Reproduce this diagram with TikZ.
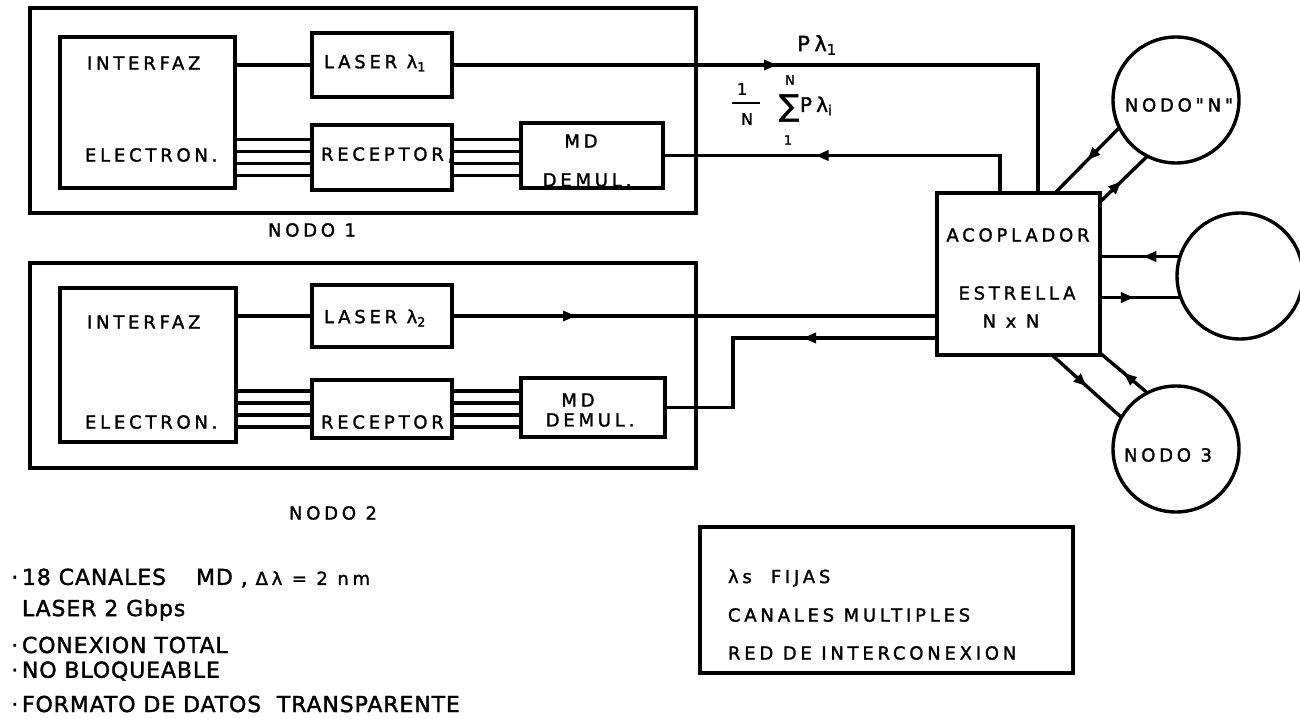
\documentclass[tikz,border=0pt]{standalone}
\usepackage{fontspec}
\usetikzlibrary{arrows.meta,decorations.markings,calc}
\newfontfamily\lblfont{DejaVu Sans}[LetterSpace=21,FakeBold=1.6]
\newfontfamily\notefont{DejaVu Sans}[LetterSpace=4,FakeBold=1.6]
\newcommand\lbl{\lblfont\fontsize{18}{20}\selectfont}
\newcommand\notetxt{\notefont\fontsize{22}{26}\selectfont}
\begin{document}
\begin{tikzpicture}[x=1pt,y=-1pt,
  every node/.style={inner sep=0pt,outer sep=0pt},
  box/.style={draw,line width=3.2pt},
  ln/.style={line width=3.4pt},
  lab/.style={font=\lbl},
  note/.style={font=\notetxt,anchor=west},
  nodecirc/.style={draw,circle,line width=3.4pt,minimum size=126pt},
  midarr/.style={postaction={decorate},decoration={markings,
     mark=at position #1 with {\arrow{Triangle[length=13pt,width=10pt]}}}}]
\useasboundingbox (0,0) rectangle (1300,719);

% ---------- NODO 1 ----------
\node[box,minimum width=666pt,minimum height=205pt] (n1) at (363,110.5) {};
\node[box,minimum width=175pt,minimum height=151pt] (if1) at (147.5,112.5) {};
\node[box,minimum width=140pt,minimum height=64pt] (las1) at (382,65) {};
\node[box,minimum width=140pt,minimum height=65pt] (rc1) at (382,157.5) {};
\node[box,minimum width=142pt,minimum height=65pt] (md1) at (592,155.5) {};
\node[lab,anchor=west] (if1a) at (87,63) {INTERFAZ};
\node[lab,anchor=west] (if1b) at (85,155) {ELECTRON.};
\node[lab,anchor=west] (las1t) at (324,63) {LASER λ\textsubscript{1}};
\node[lab,anchor=west] (rc1t) at (321,155) {RECEPTOR,};
\node[lab] (md1a) at (581,141) {MD};
\node[lab] (md1b) at (587,180) {DEMUL.};
\node[lab] (n1t) at (312,230) {NODO 1};

\draw[ln] (las1.west) -- (las1.west -| if1.east);
\foreach \d [count=\i] in {-18,-6,6,18}{
  \coordinate (a\i) at ($(rc1.west)+(0,\d)$);
  \coordinate (b\i) at ($(rc1.east)+(0,\d)$);
  \draw[ln] (a\i) -- (a\i -| if1.east);
  \draw[ln] (b\i) -- (b\i -| md1.west);
}

% ---------- NODO 2 ----------
\node[box,minimum width=666pt,minimum height=205pt] (n2) at (363,365.5) {};
\node[box,minimum width=176pt,minimum height=154pt] (if2) at (148,365) {};
\node[box,minimum width=140pt,minimum height=62pt] (las2) at (382,316) {};
\node[box,minimum width=140pt,minimum height=58pt] (rc2) at (382,409) {};
\node[box,minimum width=144pt,minimum height=59pt] (md2) at (593,407.5) {};
\node[lab,anchor=west] (if2a) at (87,322) {INTERFAZ};
\node[lab,anchor=west] (if2b) at (85,422) {ELECTRON.};
\node[lab,anchor=west] (las2t) at (324,318) {LASER λ\textsubscript{2}};
\node[lab,anchor=west] (rc2t) at (321,422) {RECEPTOR};
\node[lab] (md2a) at (578,400) {MD};
\node[lab] (md2b) at (590,420) {DEMUL.};
\node[lab] (n2t) at (333,513) {NODO 2};

\draw[ln] (las2.west) -- (las2.west -| if2.east);
\foreach \d [count=\i] in {-18,-6,6,18}{
  \coordinate (c\i) at ($(rc2.west)+(0,\d)$);
  \coordinate (d\i) at ($(rc2.east)+(0,\d)$);
  \draw[ln] (c\i) -- (c\i -| if2.east);
  \draw[ln] (d\i) -- (d\i -| md2.west);
}

% ---------- ACOPLADOR ----------
\node[box,minimum width=163pt,minimum height=162pt] (cpl) at (1018.5,274) {};
\node[lab] (cpla) at (1018,235) {ACOPLADOR};
\node[lab] (cplb) at (1017,293) {ESTRELLA};
\node[lab] (cplc) at (1011,321) {N x N};

% circles
\node[nodecirc] (nN) at (1176,100) {};
\node[nodecirc] (mid) at (1240,276) {};
\node[nodecirc] (n3) at (1176,449) {};
\node[lab] (nNt) at (1179,105) {NODO"N"};
\node[lab] (n3t) at (1168,455) {NODO 3};

% ---------- connectors ----------
\draw[ln,midarr=325pt] (las1.east) -| ($(cpl.north west)+(101,0)$);
\draw[ln,midarr=222pt] ($(cpl.north west)+(63,0)$) |- (md1.east);
\draw[ln,midarr=124pt] (las2.east) -- (las2.east -| cpl.west);
\draw[ln,midarr=134pt] ($(cpl.south west)+(0,-17)$) -- ++(-204,0) |- (md2.east);

% labels on the lines
\node[font=\lblfont\fontsize{21}{22}\selectfont] (pl1) at (817,45) {Pλ\textsubscript{1}};
\node[font=\lblfont\fontsize{16}{18}\selectfont] (fn) at (742,89) {1};
\node[fill=black,minimum width=28pt,minimum height=2.4pt] (fbar) at (746,103) {};
\node[font=\lblfont\fontsize{16}{18}\selectfont] (fd) at (747,119) {N};
\node[font=\lblfont\fontsize{30}{32}\selectfont] (sg) at (789,108) {∑};
\node[font=\lblfont\fontsize{13}{14}\selectfont] (sgN) at (790,80) {N};
\node[font=\lblfont\fontsize{13}{14}\selectfont] (sg1) at (788,140) {1};
\node[font=\lblfont\fontsize{20}{22}\selectfont,anchor=west] (plt) at (800,106) {Pλ\textsubscript{i}};

\draw[ln,midarr=0.46] (mid.162) -- (mid.162 -| cpl.east);
\draw[ln,midarr=0.42] (cpl.east |- mid.200) -- (mid.200);
\draw[ln,midarr=0.5] (nN.206.6) -- ($(cpl.north west)+(118,0)$);
\draw[ln,midarr=0.45] ($(cpl.north east)+(0,9)$) -- (nN.243);
\draw[ln,midarr=0.5] ($(cpl.south west)+(115,0)$) -- (n3.150);
\draw[ln,midarr=0.5] (n3.117) -- ($(cpl.south east)+(0,-2)$);

% ---------- legend ----------
\node[box,minimum width=373pt,minimum height=146pt] (lg) at (886.5,600) {};
\node[lab,anchor=west] (lg1) at (728,578) {λs\ \ FIJAS};
\node[lab,anchor=west] (lg2) at (728,615) {CANALES MULTIPLES};
\node[lab,anchor=west] (lg3) at (728,653) {RED DE INTERCONEXION};

% ---------- notes ----------
\node[note] (nt1) at (22,578) {\llap{·\,}18 CANALES\hspace{30pt}MD , {\lbl Δλ = 2 nm}};
\node[note] (nt2) at (22,610) {LASER 2 Gbps};
\node[note] (nt3) at (22,645) {\llap{·\,}CONEXION TOTAL};
\node[note] (nt4) at (22,671) {\llap{·\,}NO BLOQUEABLE};
\node[note] (nt5) at (22,704) {\llap{·\,}FORMATO DE DATOS\ \ TRANSPARENTE};
\end{tikzpicture}
\end{document}
